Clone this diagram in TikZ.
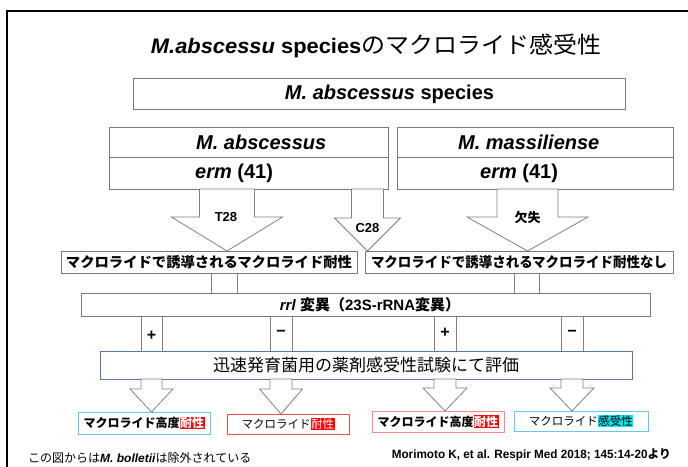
\documentclass[tikz,border=0pt]{standalone}
\usepackage{fontspec}
\usepackage{graphicx}
\setmainfont{Liberation Sans}
\newfontfamily\jp{Noto Sans CJK JP}
\definecolor{boxgray}{RGB}{120,120,120}
\definecolor{argray}{RGB}{128,128,128}
\definecolor{evalblue}{RGB}{95,115,165}
\definecolor{lblue}{RGB}{100,200,240}
\definecolor{bred}{RGB}{230,80,80}
\definecolor{bpink}{RGB}{240,140,140}
\definecolor{hlred}{RGB}{255,0,0}
\definecolor{hlcyan}{RGB}{0,230,240}
\newcommand{\J}[1]{{\jp #1}}
\newcommand{\fitw}[2]{\resizebox{#1}{\height}{#2}}
\newcommand{\hlr}[1]{{\setlength{\fboxsep}{0.5pt}\colorbox{hlred}{\textcolor{white}{#1}}}}
\newcommand{\hlc}[1]{{\setlength{\fboxsep}{0.5pt}\colorbox{hlcyan}{#1}}}
\newcommand{\fs}[1]{\fontsize{#1}{#1}\selectfont}
% block arrow: cx, ytop, yhead, ytip, shaft half width, head half width
\newcommand{\barrow}[6]{\draw[arr] ({#1-#5},#2) -- ({#1-#5},#3) -- ({#1-#6},#3) -- (#1,#4) -- ({#1+#6},#3) -- ({#1+#5},#3) -- ({#1+#5},#2) -- cycle;}
\begin{document}
\begin{tikzpicture}[x=1pt,y=-1pt,
  box/.style={draw=boxgray,line width=0.8pt,fill=white,inner sep=0pt,rectangle},
  rbox/.style={line width=0.9pt,fill=white,inner sep=0pt,rectangle},
  arr/.style={draw=argray,line width=0.8pt,fill=white},
  txt/.style={inner sep=0pt}]
\useasboundingbox (0,0) rectangle (688,466);
\draw[line width=1.5pt] (7,472) -- (7,11) -- (694,11);

% title
\node[txt] (title) at (376,46) {\fitw{450pt}{\fs{21}\textbf{\textit{M.abscessu} species}\J{\fs{23}のマクロライド感受性}}};

% species box
\node[box,minimum width=492pt,minimum height=31pt] (sp) at (379,93.5) {};
\node[txt] (spt) at (389.5,94) {\fs{20}\bfseries\itshape M. abscessus\upshape\ species};

% abscessus / massiliense
\node[box,minimum width=279pt,minimum height=30pt] (ab1) at (248.5,142) {};
\node[box,minimum width=279pt,minimum height=32pt] (ab2) at (248.5,173) {};
\node[box,minimum width=276pt,minimum height=30pt] (ma1) at (535,142) {};
\node[box,minimum width=276pt,minimum height=32pt] (ma2) at (535,173) {};
\node[txt,anchor=west] (ab1t) at (196,142) {\fs{20}\bfseries\itshape M. abscessus};
\node[txt,anchor=west] (ab2t) at (195,173) {\fs{20}\bfseries\textit{erm} (41)};
\node[txt,anchor=west] (ma1t) at (458,142) {\fs{20}\bfseries\itshape M. massiliense};
\node[txt,anchor=west] (ma2t) at (480,173) {\fs{20}\bfseries\textit{erm} (41)};

% top block arrows
\barrow{227}{189}{217}{251}{27.5}{55.5}
\barrow{367.5}{189}{218}{251}{16}{33}
\barrow{527.5}{189}{217}{251}{30.5}{60.5}
\node[txt] (t28) at (226,217) {\fs{13}\bfseries T28};
\node[txt] (c28) at (367.5,228) {\fs{13}\bfseries C28};
\node[txt] (del) at (527.5,217) {\J{\fs{13}\bfseries 欠失}};

% induced resistance boxes
\node[box,minimum width=296pt,minimum height=22pt] (ind1) at (209,262) {\fitw{286pt}{\J{\fs{14}\bfseries マクロライドで誘導されるマクロライド耐性}}};
\node[box,minimum width=308pt,minimum height=22pt] (ind2) at (519,262) {\fitw{296pt}{\J{\fs{14}\bfseries マクロライドで誘導されるマクロライド耐性なし}}};

% small connectors
\draw[arr] (211,273) rectangle (237,293);
\draw[arr] (514,273) rectangle (539,293);

% rrl box
\node[box,minimum width=569pt,minimum height=23pt] (rrl) at (365.5,304.5) {};
\node[txt] (rrlt) at (370,304.5) {\fs{15}\bfseries\textit{rrl} \J{変異（}23S-rRNA\J{変異）}};

% shafts to evaluation box
\draw[arr] (141,316) rectangle (162,351);
\draw[arr] (270,316) rectangle (292,351);
\draw[arr] (434,316) rectangle (456,351);
\draw[arr] (561,316) rectangle (583,351);
\node[txt] (p1) at (151.5,336) {\fs{16}\bfseries +};
\node[txt] (m1) at (281,333) {\fs{16}\bfseries −};
\node[txt] (p2) at (445,333) {\fs{16}\bfseries +};
\node[txt] (m2) at (572,333) {\fs{16}\bfseries −};

% evaluation box
\node[rbox,draw=evalblue,minimum width=532pt,minimum height=28pt] (ev) at (366,365) {\J{\fs{17}迅速発育菌用の薬剤感受性試験にて評価}};

% bottom block arrows
\barrow{151.5}{379}{389}{412}{10.5}{21.5}
\barrow{281}{379}{389}{414}{11}{21.5}
\barrow{445}{379}{388}{411}{11}{22}
\barrow{572}{379}{388}{411}{11}{22}

% result boxes
\node[rbox,draw=lblue,minimum width=132pt,minimum height=22pt] (r1) at (144,423) {\J{\fs{12}\bfseries マクロライド高度\hlr{耐性}}};
\node[rbox,draw=bred,minimum width=122pt,minimum height=20pt] (r2) at (288,424) {\J{\fs{11.5}マクロライド\hlr{耐性}}};
\node[rbox,draw=bpink,minimum width=132pt,minimum height=21pt] (r3) at (438,421.5) {\J{\fs{12}\bfseries マクロライド高度\hlr{耐性}}};
\node[rbox,draw=lblue,minimum width=134pt,minimum height=20pt] (r4) at (581,421) {\J{\fs{11.5}マクロライド\hlc{感受性}}};

% footnotes
\node[txt,anchor=west] (fn1) at (28,458) {\fs{12}\J{この図からは}\textbf{\textit{M. bolletii}}\J{は除外されている}};
\node[txt,anchor=east] (fn2) at (671,455) {\fitw{279pt}{\fs{12}\bfseries Morimoto K, et al. Respir Med 2018; 145:14-20\J{より}}};
\end{tikzpicture}
\end{document}
